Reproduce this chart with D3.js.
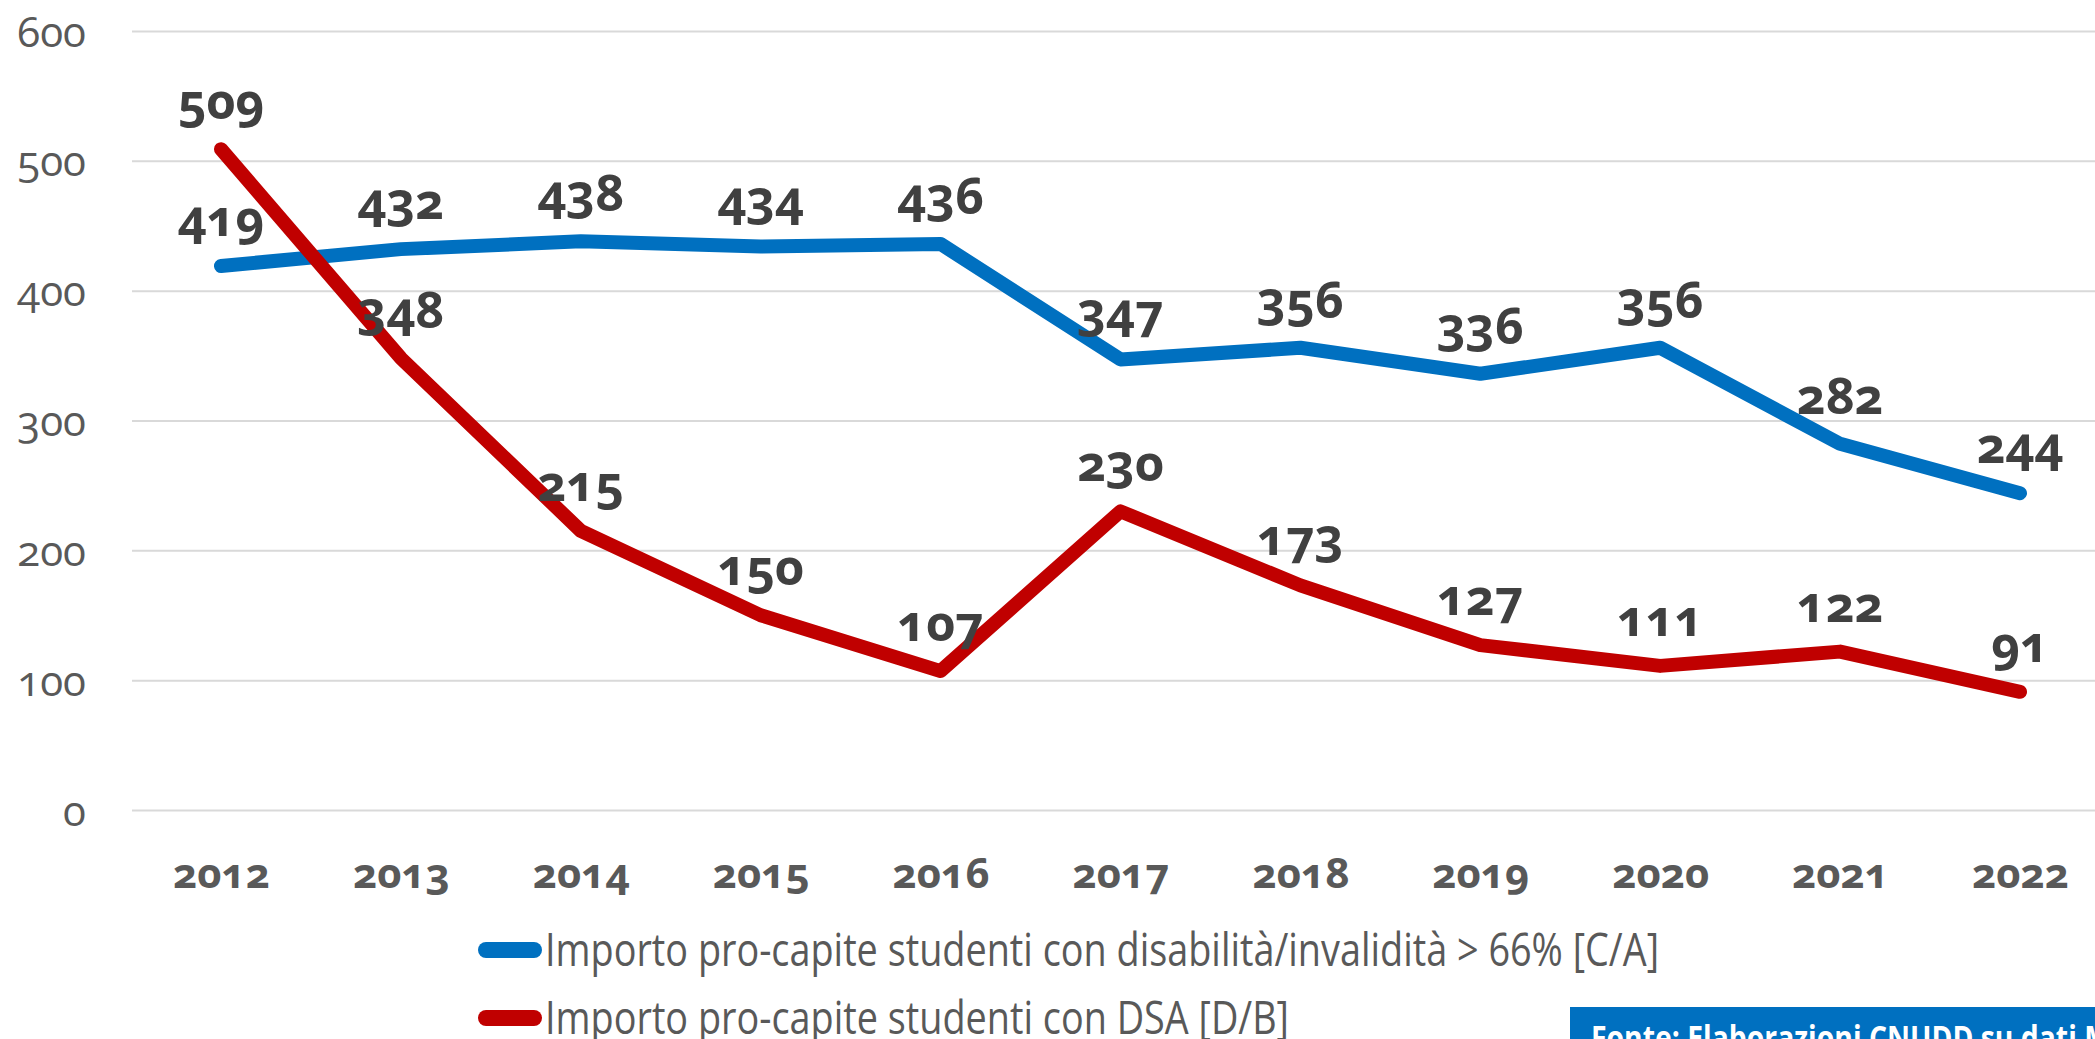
<!DOCTYPE html>
<html>
<head>
<meta charset="utf-8">
<script src="https://cdn.jsdelivr.net/npm/d3@7"></script>
<style>
    body { margin: 0; background: #fff; }
    svg { display: block; font-family: "Open Sans", "Noto Sans", sans-serif; }
</style>
</head>
<body>
<div class="chartBoard"></div>
<script>
// data
const years = ["2012", "2013", "2014", "2015", "2016", "2017", "2018", "2019", "2020", "2021", "2022"];
const disabilita = [419, 432, 438, 434, 436, 347, 356, 336, 356, 282, 244];
const dsa = [509, 348, 215, 150, 107, 230, 173, 127, 111, 122, 91];
const yTicks = [0, 100, 200, 300, 400, 500, 600];
const seriesNames = [
    "Importo pro-capite studenti con disabilità/invalidità > 66% [C/A]",
    "Importo pro-capite studenti con DSA [D/B]"
];
const sourceText = "Fonte: Elaborazioni CNUDD su dati MUR";

createChart();

function createChart() {
    const w = 2095, // width
        h = 1039, // height
        left = 132, // where the gridlines start
        top = 31, // 600 line
        bottom = 810; // 0 line

    const blue = "#0070C0",
        red = "#C00000";

    const svg = d3.select(".chartBoard")
        .append("svg")
        .attr("width", w)
        .attr("height", h);

    const xScale = d3.scalePoint()
        .domain(years)
        .range([221, 2020]);

    const yScale = d3.scaleLinear()
        .domain([0, 600])
        .range([bottom, top]);

    // y axis = gridlines + labels
    const yAxis = d3.axisLeft(yScale)
        .tickValues(yTicks)
        .tickSize(-(w - left))
        .tickPadding(46);

    const gy = svg.append("g")
        .attr("id", "y-axis")
        .attr("transform", "translate(" + left + ",0)")
        .call(yAxis);
    gy.select(".domain").remove();
    gy.selectAll(".tick line")
        .attr("stroke", "#D9D9D9")
        .attr("stroke-width", 2);
    gy.selectAll(".tick text")
        .attr("fill", "#595959")
        .style("font-family", "'Open Sans'")
        .style("font-size", "42px")
        .style("font-variant-numeric", "oldstyle-nums")
        .attr("dy", "0.36em");

    // x axis, bold years
    const xAxis = d3.axisBottom(xScale)
        .tickSize(0)
        .tickPadding(0);

    const gx = svg.append("g")
        .attr("id", "x-axis")
        .attr("transform", "translate(0," + bottom + ")")
        .call(xAxis);
    gx.select(".domain").remove();
    gx.selectAll(".tick text")
        .attr("y", 65)
        .attr("dy", "0.3em")
        .attr("fill", "#595959")
        .style("font-family", "'Open Sans'")
        .style("font-size", "42px")
        .style("font-weight", "bold")
        .style("font-variant-numeric", "oldstyle-nums");

    const line = d3.line()
        .x((d, i) => xScale(years[i]))
        .y(d => yScale(d));

    const series = [
        { values: disabilita, color: blue },
        { values: dsa, color: red }
    ];

    series.forEach(s => {
        svg.append("path")
            .datum(s.values)
            .attr("d", line)
            .attr("fill", "none")
            .attr("stroke", s.color)
            .attr("stroke-width", 14)
            .attr("stroke-linejoin", "round")
            .attr("stroke-linecap", "round");
    });

    // data labels above each point
    series.forEach(s => {
        svg.append("g")
            .selectAll("text")
            .data(s.values)
            .enter()
            .append("text")
            .attr("x", (d, i) => xScale(years[i]))
            .attr("y", d => yScale(d) - 30)
            .attr("text-anchor", "middle")
            .attr("fill", "#404040")
            .style("font-family", "'Open Sans'")
            .style("font-size", "50px")
            .style("font-weight", "bold")
            .style("font-variant-numeric", "oldstyle-nums")
            .text(d => d);
    });

    // legend
    const legendY = [950, 1018],
        legendW = [1114, 744];
    series.forEach((s, i) => {
        svg.append("line")
            .attr("x1", 486)
            .attr("x2", 534)
            .attr("y1", legendY[i])
            .attr("y2", legendY[i])
            .attr("stroke", s.color)
            .attr("stroke-width", 16)
            .attr("stroke-linecap", "round");
        svg.append("text")
            .attr("x", 545)
            .attr("y", legendY[i] + 16)
            .attr("fill", "#595959")
            .attr("textLength", legendW[i])
            .attr("lengthAdjust", "spacingAndGlyphs")
            .style("font-size", "45px")
            .text(seriesNames[i]);
    });

    // source box, cut by the right and bottom edge
    svg.append("rect")
        .attr("x", 1570)
        .attr("y", 1007)
        .attr("width", w - 1570)
        .attr("height", 60)
        .attr("fill", blue);
    svg.append("text")
        .attr("x", 1591)
        .attr("y", 1050)
        .attr("fill", "#fff")
        .attr("textLength", 560)
        .attr("lengthAdjust", "spacingAndGlyphs")
        .style("font-size", "34px")
        .style("font-weight", "bold")
        .text(sourceText);
}
</script>
</body>
</html>
